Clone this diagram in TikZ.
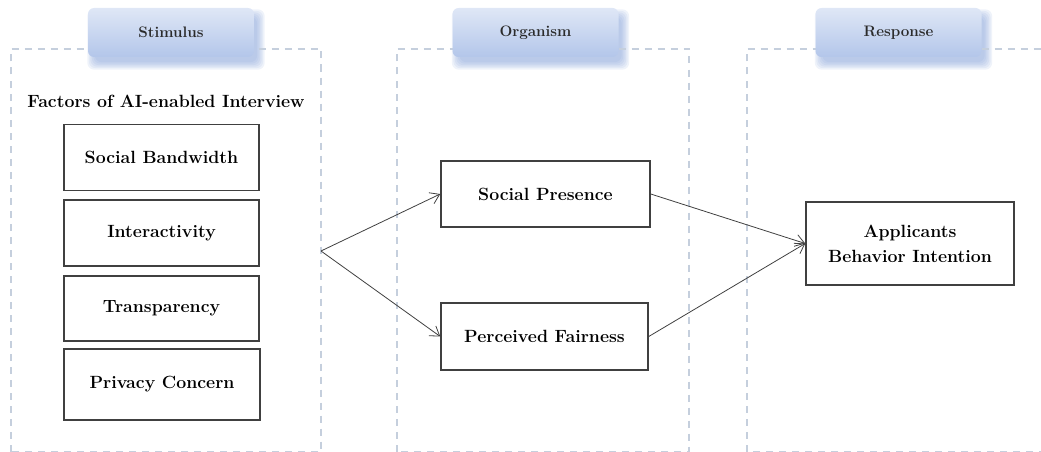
\documentclass[tikz,border=0pt]{standalone}
\usetikzlibrary{arrows.meta}
\definecolor{panelline}{HTML}{C5CFDD}
\definecolor{tabtop}{HTML}{DFE7F6}
\definecolor{tabbottom}{HTML}{B3C6EA}
\definecolor{tabshadow}{HTML}{7F9DD6}
\definecolor{boxline}{HTML}{404040}
\definecolor{tabtext}{HTML}{2B2B2B}
\pgfdeclarelayer{background}
\pgfsetlayers{background,main}
\tikzset{
  panel/.style={draw=panelline, line width=1.2pt, dash pattern=on 7pt off 6pt},
  tab/.style={rounded corners=6pt, top color=tabtop, bottom color=tabbottom,
    minimum width=166pt, minimum height=49pt, inner sep=0pt,
    text=tabtext, font=\fontsize{15.2}{18}\selectfont\bfseries},
  softshadow/.style={fill=tabshadow, opacity=0.12, rounded corners=7pt},
  factor/.style={draw=boxline, line width=1.5pt, fill=white, inner sep=0pt,
    align=center, font=\fontsize{17.7}{25}\selectfont\bfseries},
  link/.style={draw=boxline, line width=0.8pt, -{Straight Barb[length=9pt,width=12pt,line width=0.8pt]}}
}
\begin{document}
\begin{tikzpicture}[x=1pt,y=-1pt]
\useasboundingbox (0,0) rectangle (1041,452);
% dashed panels
\draw[panel] (11,451.5) -- (11,49) -- (321,49) -- (321,451.5) -- cycle;
\draw[panel] (397,451.5) -- (397,49) -- (689,49) -- (689,451.5) -- cycle;
\draw[panel] (1046,451.5) -- (747,451.5) -- (747,49) -- (1046,49);
% panel tabs
\node[tab] (stim) at (171,32.5) {Stimulus};
\node[tab] (org) at (535.5,32.5) {Organism};
\node[tab] (resp) at (898.5,32.5) {Response};
% soft shadows under the tabs
\begin{pgfonlayer}{background}
  \foreach \t in {stim,org,resp}{
    \foreach \s in {-2,-0.5,1,2.5,4,5.5}{
      \fill[softshadow] ([shift={(5-\s,7-\s)}]\t.north west) rectangle ([shift={(5+\s,7+\s)}]\t.south east);
    }
  }
\end{pgfonlayer}
% stimulus factors
\node[font=\fontsize{17.7}{25}\selectfont\bfseries, inner sep=0pt] (title) at (166,101) {Factors of AI-enabled Interview};
\node[factor, minimum width=195pt, minimum height=66pt] (sb) at (161.5,157.5) {Social Bandwidth};
\node[factor, minimum width=195pt, minimum height=66pt] (inter) at (161.5,233) {Interactivity};
\node[factor, minimum width=195pt, minimum height=65pt] (trans) at (161.5,308.5) {Transparency};
\node[factor, minimum width=196pt, minimum height=71pt] (priv) at (162,384.5) {Privacy Concern};
% organism
\node[factor, minimum width=209pt, minimum height=66pt] (sp) at (545.5,194) {Social Presence};
\node[factor, minimum width=207pt, minimum height=67pt] (pf) at (544.5,336.5) {Perceived Fairness};
% response
\node[factor, minimum width=208pt, minimum height=83pt] (abi) at (910,243.5) {Applicants\\Behavior Intention};
% connectors
\coordinate (split) at (321,251);
\draw[link] (split) -- (sp.west);
\draw[link] (split) -- (pf.west);
\draw[link] (sp.east) -- (abi.west);
\draw[link] (pf.east) -- (abi.west);
\end{tikzpicture}
\end{document}
